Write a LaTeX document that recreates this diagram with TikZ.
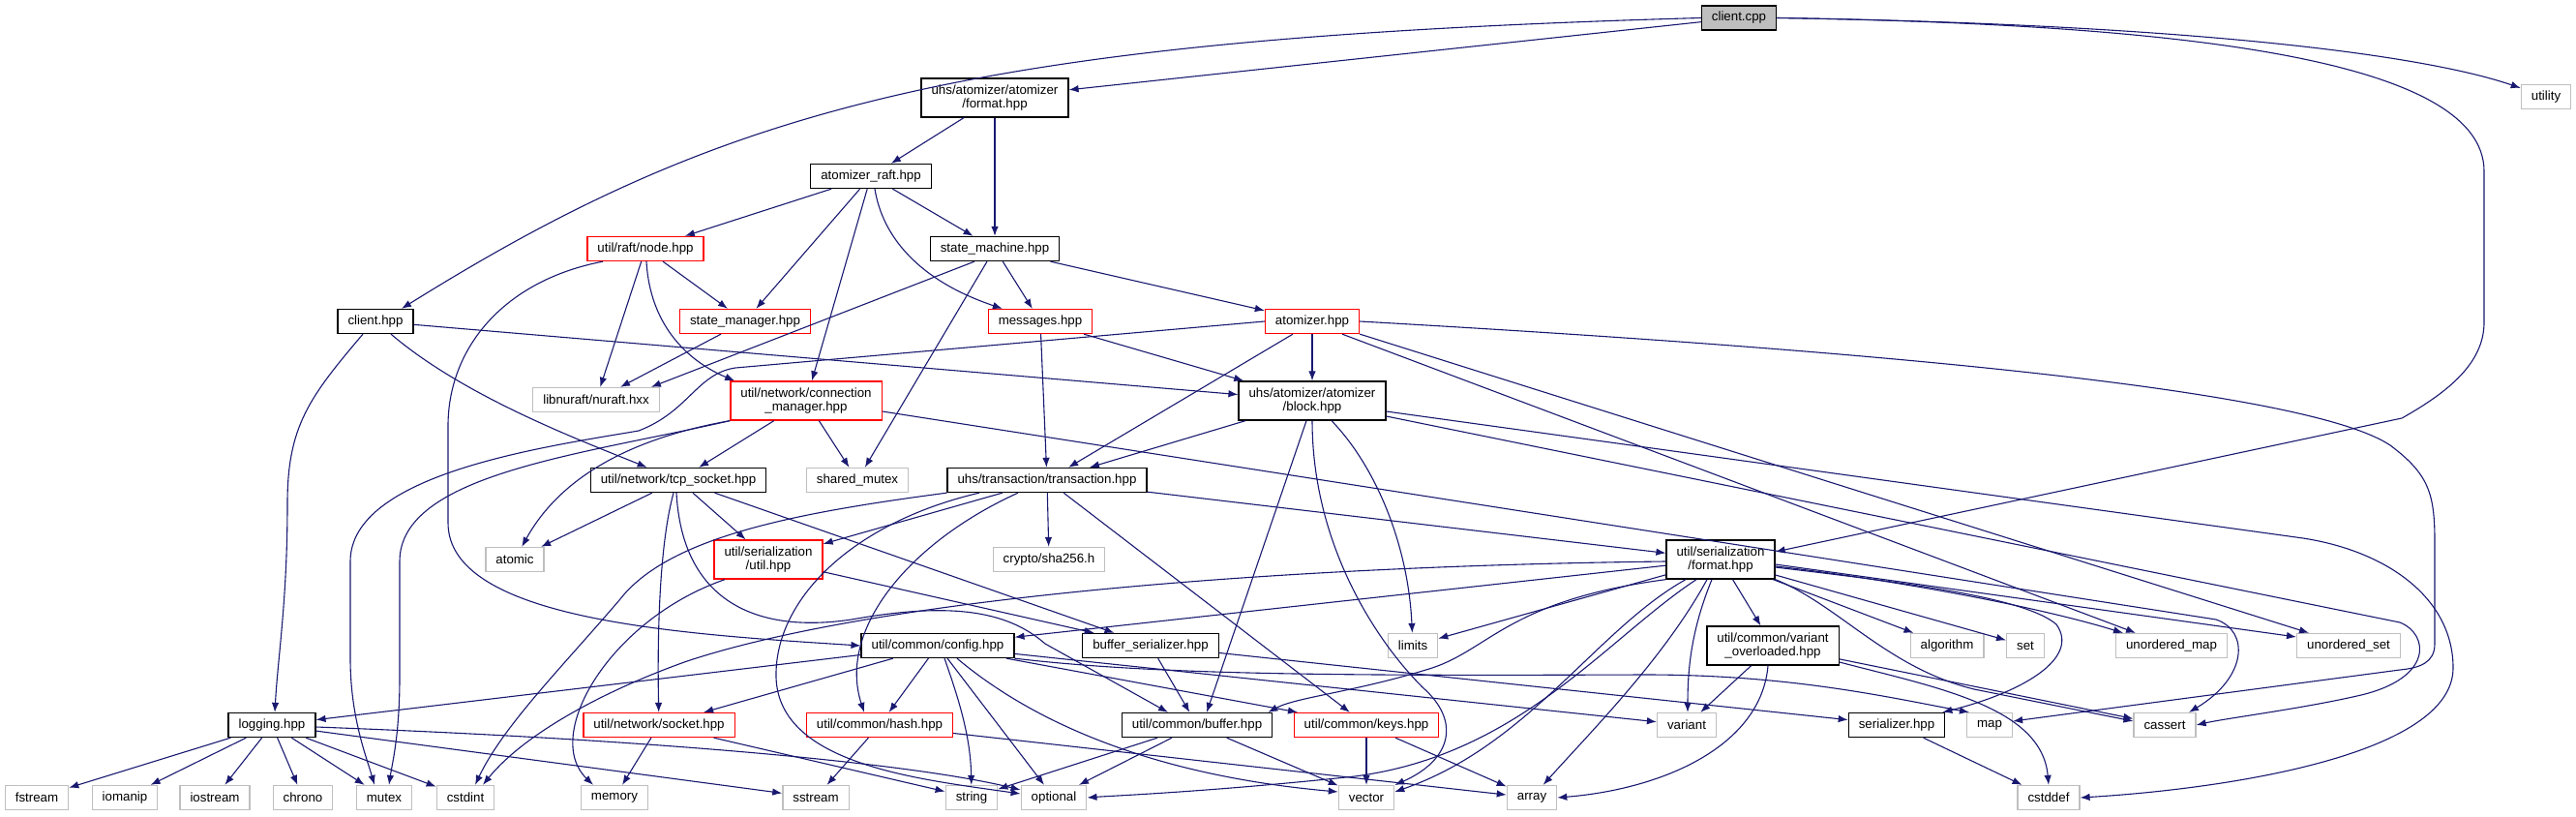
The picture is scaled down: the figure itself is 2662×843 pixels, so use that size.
\documentclass[tikz,border=0pt]{standalone}
\usepackage{fontspec}
\setmainfont{Liberation Sans}
\usetikzlibrary{arrows.meta}
\definecolor{incblue}{HTML}{191970}
\definecolor{sysgray}{HTML}{BFBFBF}
\tikzset{
  incfile/.style={draw=black,line width=1.3pt,inner xsep=10.5pt,inner ysep=0pt,minimum height=25pt,font={\fontsize{13.3}{14.5}\selectfont}},
  twoline/.style={align=center,minimum height=40pt},
  trunc/.style={incfile,draw=red},
  sysfile/.style={incfile,draw=sysgray},
  rootfile/.style={incfile,fill=sysgray},
  incarc/.style={->,incblue,line width=1.1pt}
}

\begin{document}
\begin{tikzpicture}[x=1pt,y=-1pt,>={Latex[length=10pt,width=7.5pt]}]
  \useasboundingbox (0,0) rectangle (2662,843);
  % files
  \node[rootfile] (cc) at (1797,18.5) {client.cpp};
  \node[sysfile] (utility) at (2631,100) {utility};
  \node[incfile,twoline] (afmt) at (1028,101) {uhs/atomizer/atomizer\\/format.hpp};
  \node[incfile] (araft) at (900,182) {atomizer\_raft.hpp};
  \node[trunc] (rnode) at (667,257) {util/raft/node.hpp};
  \node[incfile] (smach) at (1028,257) {state\_machine.hpp};
  \node[incfile] (clienthpp) at (388,332) {client.hpp};
  \node[trunc] (smgr) at (770,332) {state\_manager.hpp};
  \node[trunc] (msgs) at (1075,332) {messages.hpp};
  \node[trunc] (atomizer) at (1356,332) {atomizer.hpp};
  \node[sysfile] (nuraft) at (616,413) {libnuraft/nuraft.hxx};
  \node[trunc,twoline] (connmgr) at (833,414) {util/network/connection\\\_manager.hpp};
  \node[incfile,twoline] (block) at (1356,414) {uhs/atomizer/atomizer\\/block.hpp};
  \node[incfile] (tcpsock) at (701,496) {util/network/tcp\_socket.hpp};
  \node[sysfile] (shmutex) at (886,496) {shared\_mutex};
  \node[incfile] (txn) at (1082,496) {uhs/transaction/transaction.hpp};
  \node[sysfile] (atomic) at (532,578) {atomic};
  \node[trunc,twoline] (su) at (794,578) {util/serialization\\/util.hpp};
  \node[sysfile] (sha) at (1084,578) {crypto/sha256.h};
  \node[incfile,twoline] (sfmt) at (1778,578) {util/serialization\\/format.hpp};
  \node[sysfile] (limits) at (1460,667) {limits};
  \node[incfile] (config) at (969,667) {util/common/config.hpp};
  \node[incfile] (bufser) at (1189,667) {buffer\_serializer.hpp};
  \node[incfile,twoline] (varov) at (1832,667) {util/common/variant\\\_overloaded.hpp};
  \node[sysfile] (algorithm) at (2012,667) {algorithm};
  \node[sysfile] (set) at (2093,667) {set};
  \node[sysfile] (umap) at (2244,667) {unordered\_map};
  \node[sysfile] (uset) at (2427,667) {unordered\_set};
  \node[incfile] (logging) at (281,749) {logging.hpp};
  \node[trunc] (socket) at (681,749) {util/network/socket.hpp};
  \node[trunc] (hash) at (909,749) {util/common/hash.hpp};
  \node[incfile] (buffer) at (1237,749) {util/common/buffer.hpp};
  \node[trunc] (keys) at (1412,749) {util/common/keys.hpp};
  \node[sysfile] (variant) at (1743,749) {variant};
  \node[incfile] (serializer) at (1960,749) {serializer.hpp};
  \node[sysfile] (map) at (2056,749) {map};
  \node[sysfile] (cassert) at (2237,749) {cassert};
  \node[sysfile] (fstream) at (38,824) {fstream};
  \node[sysfile] (iomanip) at (129,824) {iomanip};
  \node[sysfile] (iostream) at (222,824) {iostream};
  \node[sysfile] (chrono) at (313,824) {chrono};
  \node[sysfile] (mutex) at (397,824) {mutex};
  \node[sysfile] (cstdint) at (481,824) {cstdint};
  \node[sysfile] (memory) at (635,824) {memory};
  \node[sysfile] (sstream) at (843,824) {sstream};
  \node[sysfile] (string) at (1004,824) {string};
  \node[sysfile] (optional) at (1089,824) {optional};
  \node[sysfile] (vector) at (1412,824) {vector};
  \node[sysfile] (array) at (1583,824) {array};
  \node[sysfile] (cstddef) at (2117,824) {cstddef};
  % client.cpp
  \draw[incarc] (cc.west) .. controls (1000,40) and (750,110) .. ([xshift=27]clienthpp.north);
  \draw[incarc] (cc) -- (afmt);
  \draw[incarc] (cc.east) .. controls (2250,25) and (2500,55) .. (utility);
  \draw[incarc] (cc.east) .. controls (2250,25) and (2567,60) .. (2567,177) -- (2567,333) .. controls (2567,375) and (2530,405) .. (2482,432) -- ([yshift=8]sfmt.east);
  % atomizer format / raft
  \draw[incarc] ([xshift=-32]afmt.south) -- (araft);
  \draw[incarc] (afmt) -- (smach);
  \draw[incarc] (araft) -- (rnode);
  \draw[incarc] (araft) -- (smgr);
  \draw[incarc] (araft) -- (connmgr);
  \draw[incarc] ([xshift=4]araft.south) .. controls (912,245) and (950,290) .. (msgs);
  \draw[incarc] (araft) -- (smach);
  % raft node, state machine
  \draw[incarc] (rnode) -- (nuraft);
  \draw[incarc] (rnode) -- (smgr);
  \draw[incarc] ([xshift=1]rnode.south) .. controls (672,340) and (715,375) .. ([xshift=5]connmgr.north west);
  \draw[incarc] ([xshift=-44]rnode.south) .. controls (520,290) and (463,360) .. (463,440) -- (463,540) .. controls (463,640) and (700,655) .. (config.west);
  \draw[incarc] ([xshift=-21]smach.south) -- ([xshift=-9]nuraft.north east);
  \draw[incarc] ([xshift=-8]smach.south) -- (shmutex);
  \draw[incarc] (smach) -- (msgs);
  \draw[incarc] (smach) -- (atomizer);
  % client.hpp
  \draw[incarc] ([xshift=-13]clienthpp.south) .. controls (320,410) and (297,440) .. (297,520) .. controls (297,620) and (287,680) .. ([xshift=3]logging.north);
  \draw[incarc] ([xshift=16]clienthpp.south) .. controls (480,410) and (600,455) .. (tcpsock);
  \draw[incarc] (clienthpp) -- (block);
  \draw[incarc] (smgr) -- (nuraft);
  \draw[incarc] (msgs) -- (txn);
  \draw[incarc] (msgs) -- (block);
  % atomizer.hpp
  \draw[incarc] (atomizer) -- (block);
  \draw[incarc] ([xshift=-20]atomizer.south) -- (txn);
  \draw[incarc] (atomizer.west) -- (760,380) .. controls (720,386) and (712,425) .. (660,445) .. controls (560,462) and (362,490) .. (362,580) -- (362,680) .. controls (362,740) and (378,780) .. ([xshift=-10]mutex.north);
  \draw[incarc] ([xshift=31]atomizer.south) -- ([xshift=-37]umap.north);
  \draw[incarc] (atomizer.south east) -- ([xshift=-41]uset.north);
  \draw[incarc] (atomizer.east) .. controls (1900,360) and (2380,400) .. (2470,460) .. controls (2510,490) and (2516,510) .. (2516,560) -- (2516,665) .. controls (2516,685) and (2500,690) .. (2480,692) -- ([yshift=4]map.east);
  % connection manager
  \draw[incarc] (connmgr) -- (tcpsock);
  \draw[incarc] (connmgr) -- (shmutex);
  \draw[incarc] (connmgr.south west) .. controls (600,470) and (413,490) .. (413,580) -- (413,700) .. controls (413,760) and (405,790) .. ([xshift=5]mutex.north);
  \draw[incarc] (connmgr.south west) .. controls (640,455) and (575,500) .. (atomic);
  \draw[incarc] ([yshift=-11]connmgr.east) -- (2290,640) .. controls (2325,652) and (2322,700) .. ([xshift=25]cassert.north);
  % block.hpp
  \draw[incarc] (block) -- (txn);
  \draw[incarc] ([xshift=-6]block.south) -- ([xshift=10]buffer.north);
  \draw[incarc] ([xshift=20]block.south) .. controls (1420,480) and (1455,560) .. (limits);
  \draw[incarc] (block.south) .. controls (1356,560) and (1420,660) .. (1470,710) .. controls (1510,745) and (1500,785) .. (vector);
  \draw[incarc] ([yshift=-16]block.east) -- (2480,643) .. controls (2510,655) and (2515,700) .. (2440,718) .. controls (2380,732) and (2300,742) .. (cassert.east);
  \draw[incarc] ([yshift=-11]block.east) -- (2380,556) .. controls (2470,570) and (2535,620) .. (2535,690) .. controls (2535,780) and (2300,815) .. (cstddef.east);
  % tcp socket
  \draw[incarc] (tcpsock) -- (atomic);
  \draw[incarc] (tcpsock) -- (su);
  \draw[incarc] ([xshift=-5]tcpsock.south) .. controls (682,560) and (679,650) .. (socket);
  \draw[incarc] ([xshift=-2]tcpsock.south) .. controls (705,620) and (780,655) .. (880,640) .. controls (980,622) and (1040,630) .. (1080,665) -- ([xshift=-30]buffer.north);
  \draw[incarc] (tcpsock) -- (bufser);
  % transaction
  \draw[incarc] (txn) -- (sha);
  \draw[incarc] (txn) -- (keys);
  \draw[incarc] (txn) -- (su);
  \draw[incarc] ([xshift=-30]txn.south) .. controls (940,560) and (865,650) .. ([xshift=-16]hash.north);
  \draw[incarc] ([xshift=-70]txn.south) .. controls (880,540) and (800,620) .. (802,700) .. controls (805,790) and (950,805) .. ([yshift=4]optional.west);
  \draw[incarc] (txn.south west) .. controls (820,530) and (690,555) .. (640,620) .. controls (580,690) and (520,750) .. ([xshift=10]cstdint.north);
  \draw[incarc] (txn) -- (sfmt);
  % serialization util
  \draw[incarc] ([xshift=-45]su.south) .. controls (630,640) and (560,760) .. ([xshift=-22]memory.north);
  \draw[incarc] (su) -- (bufser);
  % serialization format
  \draw[incarc] (sfmt) -- (config);
  \draw[incarc] ([yshift=-2]sfmt.west) .. controls (1300,585) and (900,620) .. (710,683) .. controls (620,715) and (540,760) .. ([xshift=18]cstdint.north);
  \draw[incarc] (sfmt.south west) .. controls (1560,620) and (1540,670) .. (1480,690) .. controls (1400,715) and (1340,720) .. ([xshift=-5]buffer.north east);
  \draw[incarc] (sfmt) -- (limits);
  \draw[incarc] ([xshift=-36]sfmt.south) .. controls (1650,650) and (1580,770) .. ([yshift=6]vector.east);
  \draw[incarc] ([xshift=-25]sfmt.south) .. controls (1660,660) and (1570,780) .. (1400,802) .. controls (1250,818) and (1150,822) .. (optional.east);
  \draw[incarc] ([xshift=-14]sfmt.south) .. controls (1720,680) and (1640,760) .. (array);
  \draw[incarc] ([xshift=-9]sfmt.south) .. controls (1748,650) and (1744,690) .. ([xshift=1]variant.north);
  \draw[incarc] (sfmt) -- (varov);
  \draw[incarc] (sfmt) -- (algorithm);
  \draw[incarc] (sfmt) -- (set);
  \draw[incarc] ([yshift=-7]sfmt.east) .. controls (1950,598) and (2100,625) .. ([xshift=-50]umap.north);
  \draw[incarc] ([yshift=-5]sfmt.east) -- ([yshift=9]uset.west);
  \draw[incarc] (sfmt.south east) .. controls (1900,625) and (1950,690) .. (2040,712) -- ([yshift=4]cassert.west);
  \draw[incarc] ([yshift=-8]sfmt.east) .. controls (1950,600) and (2090,615) .. (2125,645) .. controls (2150,680) and (2090,715) .. ([xshift=-3]serializer.north east);
  % variant overloaded
  \draw[incarc] (varov) -- (variant);
  \draw[incarc] ([xshift=-5]varov.south) .. controls (1820,770) and (1720,815) .. (array.east);
  \draw[incarc] (varov) -- (cassert);
  \draw[incarc] ([yshift=-17]varov.east) .. controls (2000,710) and (2110,730) .. (cstddef.north);
  % config
  \draw[incarc] (config) -- (logging);
  \draw[incarc] (config) -- (socket);
  \draw[incarc] (config) -- (hash);
  \draw[incarc] ([xshift=7]config.south) .. controls (990,720) and (1003,760) .. (string);
  \draw[incarc] (config) -- (optional);
  \draw[incarc] ([xshift=20]config.south) .. controls (1060,740) and (1180,800) .. ([yshift=6]vector.west);
  \draw[incarc] (config) -- (keys);
  \draw[incarc] (config) -- (variant);
  \draw[incarc] (config.south east) .. controls (1200,698) and (1400,698) .. (1700,697) .. controls (1850,697) and (1950,720) .. ([xshift=3]map.north west);
  \draw[incarc] (bufser) -- (buffer);
  \draw[incarc] (bufser) -- (serializer);
  % logging
  \draw[incarc] (logging) -- (fstream);
  \draw[incarc] (logging) -- (iomanip);
  \draw[incarc] (logging) -- (iostream);
  \draw[incarc] (logging) -- (chrono);
  \draw[incarc] (logging) -- (mutex);
  \draw[incarc] (logging) -- (cstdint);
  \draw[incarc] ([yshift=-2]logging.east) .. controls (700,765) and (950,790) .. ([yshift=8]optional.west);
  \draw[incarc] (logging) -- (sstream);
  % bottom layer
  \draw[incarc] (socket) -- (memory);
  \draw[incarc] (socket) -- (string);
  \draw[incarc] (hash) -- (sstream);
  \draw[incarc] (hash) -- (array);
  \draw[incarc] (buffer) -- (string);
  \draw[incarc] (buffer) -- (optional);
  \draw[incarc] (buffer) -- (vector);
  \draw[incarc] (keys) -- (vector);
  \draw[incarc] (keys) -- (array);
  \draw[incarc] (serializer) -- (cstddef);
\end{tikzpicture}
\end{document}
